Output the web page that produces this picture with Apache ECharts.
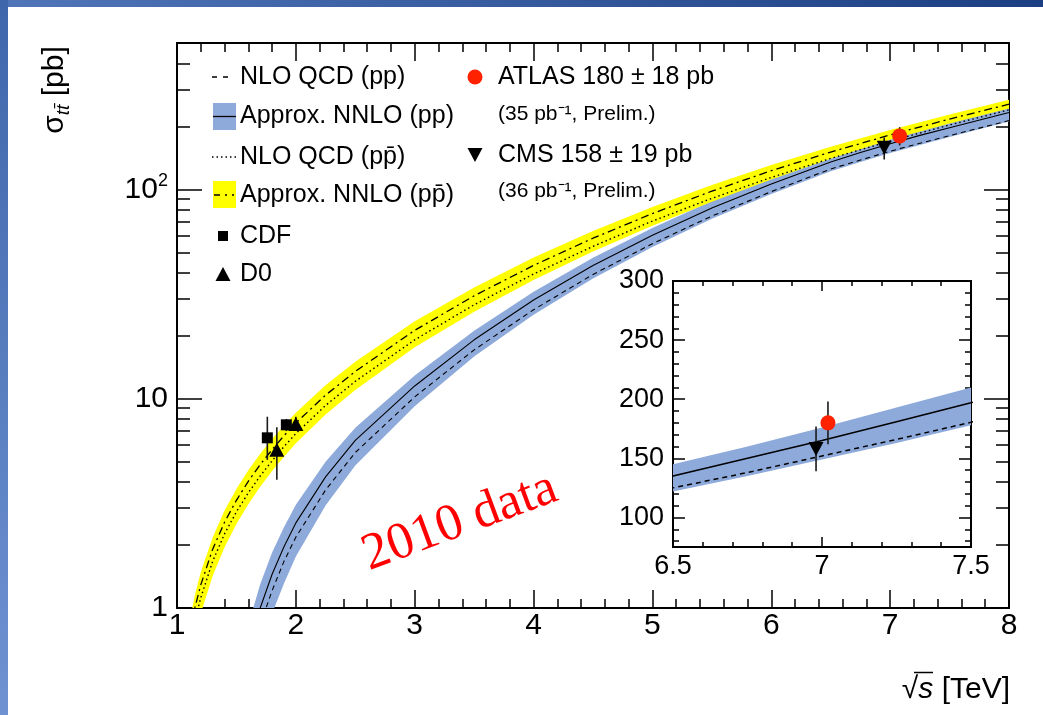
<!DOCTYPE html>
<html>
<head>
<meta charset="utf-8">
<title>Top-pair cross section vs collision energy</title>
<script src="https://cdn.jsdelivr.net/npm/echarts@6/dist/echarts.min.js"></script>
<style>
  html, body { margin: 0; padding: 0; background: #ffffff; }
  #chart { width: 1043px; height: 715px; }
</style>
</head>
<body>
<div id="chart"></div>
<script>
// ---------------- data (cross sections in pb, energies in TeV) ----------------
// pp theory curves
const ppX        = [1.6, 1.7, 1.8, 1.9, 2.0, 2.25, 2.5, 3.0, 3.5, 4.0, 4.5, 5.0, 5.5, 6.0, 6.5, 6.75, 7.0, 7.25, 7.5, 8.0];
const ppNnlo     = [0.63, 1.0, 1.45, 1.96, 2.55, 4.23, 6.32, 11.5, 19.1, 29.6, 43.3, 60.4, 81.5, 106, 135, 150, 165, 181, 197, 233];
const ppNnloHigh = [0.83, 1.30, 1.84, 2.43, 3.11, 4.99, 7.27, 12.9, 21.1, 32.4, 47.1, 65.4, 87.9, 114, 145, 160, 176, 193, 210, 248];
const ppNnloLow  = [0.39, 0.63, 0.94, 1.31, 1.76, 3.09, 4.80, 9.2, 15.9, 25.2, 37.5, 53.0, 72.3, 95.0, 122, 135, 149, 163, 178, 211];
const ppNlo      = [0.52, 0.83, 1.21, 1.67, 2.18, 3.66, 5.53, 10.2, 17.1, 26.6, 39.2, 55.0, 74.5, 97.5, 125, 138, 152, 166, 180.5, 213];

// p-pbar theory curves
const ppbarX        = [1.1, 1.15, 1.2, 1.3, 1.4, 1.5, 1.6, 1.7, 1.8, 1.9, 2.0, 2.25, 2.5, 3.0, 3.5, 4.0, 4.5, 5.0, 5.5, 6.0, 6.5, 7.0, 7.5, 8.0];
const ppbarNnlo     = [0.72, 1.0, 1.29, 1.91, 2.57, 3.27, 4.03, 4.84, 5.71, 6.65, 7.65, 10.4, 13.5, 21.2, 31.0, 43.3, 58.4, 76.6, 98.0, 122.7, 150.7, 181.8, 216.6, 255];
const ppbarNnloHigh = [0.83, 1.15, 1.48, 2.17, 2.92, 3.70, 4.55, 5.45, 6.42, 7.45, 8.57, 11.6, 15.0, 23.4, 34.0, 47.2, 63.2, 82.4, 104.9, 130.7, 159.7, 191.8, 227.9, 267.8];
const ppbarNnloLow  = [0.52, 0.72, 0.94, 1.42, 1.95, 2.52, 3.13, 3.79, 4.51, 5.28, 6.12, 8.40, 11.0, 17.6, 26.0, 36.9, 50.4, 66.9, 87.2, 111.3, 140.0, 172.7, 206.2, 243.5];
const ppbarNlo      = [0.63, 0.87, 1.12, 1.67, 2.26, 2.88, 3.55, 4.27, 5.05, 5.90, 6.81, 9.28, 12.1, 19.1, 28.1, 39.4, 53.4, 70.5, 90.6, 113.9, 140.5, 170.0, 203.0, 239.7];

// measurements: [energy shown, value, lower edge, upper edge]
const cdfPoints  = [[1.76, 6.5, 5.1, 8.2], [1.92, 7.5, 7.0, 8.0]];
const d0Points   = [[1.84, 5.7, 4.1, 7.3], [2.0, 7.56, 7.0, 8.2]];
const atlasMain  = [[7.08, 180, 162, 198]];
const cmsMain    = [[6.95, 158, 139, 177]];
const atlasInset = [[7.02, 180, 162, 198]];
const cmsInset   = [[6.98, 158, 139, 177]];

// axis ticks
const xMin = 1, xMax = 8;
const yMin = 1, yMax = 500;
const yMajorTicks = [1, 10, 100];
const yMinorTicks = [2, 3, 4, 5, 6, 7, 8, 9, 20, 30, 40, 50, 60, 70, 80, 90, 200, 300, 400, 500];
const insetXMin = 6.5, insetXMax = 7.5;
const insetYMin = 75, insetYMax = 300;
const insetYMajorTicks = [100, 150, 200, 250, 300];
const insetYMinorTicks = [80, 90, 110, 120, 130, 140, 160, 170, 180, 190, 210, 220, 230, 240, 260, 270, 280, 290];

// ---------------- helpers ----------------
const LOG = v => Math.log10(v);
const LIN = v => v;
const FONT = 'Liberation Sans, Arial, Helvetica, sans-serif';
const BLACK = '#000000';
const BLUE_BAND = '#8eaadb';
const YELLOW_BAND = '#ffff00';
const RED = '#ff2200';

function bandSeries(xs, hi, lo, color, xi, yi, tf, z) {
  return {
    type: 'custom', xAxisIndex: xi, yAxisIndex: yi, z: z, silent: true, clip: true,
    data: [[xs[xs.length - 1], tf(hi[hi.length - 1])]],
    renderItem(params, api) {
      const pts = [];
      for (let i = 0; i < xs.length; i++) pts.push(api.coord([xs[i], tf(hi[i])]));
      for (let i = xs.length - 1; i >= 0; i--) pts.push(api.coord([xs[i], tf(lo[i])]));
      const cs = params.coordSys;
      return {
        type: 'group',
        clipPath: { type: 'rect', shape: { x: cs.x, y: cs.y, width: cs.width, height: cs.height } },
        children: [{ type: 'polygon', shape: { points: pts }, style: { fill: color } }]
      };
    }
  };
}

function lineSeries(xs, ys, xi, yi, tf, width, dash, z) {
  return {
    type: 'line', xAxisIndex: xi, yAxisIndex: yi, z: z, silent: true, clip: true,
    symbol: 'none', smooth: false,
    data: xs.map((x, i) => [x, tf(ys[i])]),
    lineStyle: { color: BLACK, width: width, type: dash }
  };
}

function errorBarSeries(pts, xi, yi, tf, z) {
  return {
    type: 'custom', xAxisIndex: xi, yAxisIndex: yi, z: z, silent: true, clip: true,
    data: pts.map(p => [p[0], tf(p[2]), tf(p[3])]),
    encode: { x: 0, y: [1, 2] },
    renderItem(params, api) {
      const a = api.coord([api.value(0), api.value(1)]);
      const b = api.coord([api.value(0), api.value(2)]);
      return { type: 'line', shape: { x1: a[0], y1: a[1], x2: b[0], y2: b[1] },
               style: { stroke: '#1a1a1a', lineWidth: 1.6 } };
    }
  };
}

function markerSeries(pts, xi, yi, tf, symbol, size, color, rotate, z) {
  return {
    type: 'scatter', xAxisIndex: xi, yAxisIndex: yi, z: z, silent: true,
    symbol: symbol, symbolSize: size, symbolRotate: rotate || 0,
    data: pts.map(p => [p[0], tf(p[1])]),
    itemStyle: { color: color, opacity: 1 }
  };
}

const tickStyle = { color: BLACK, width: 1.5 };

function xAxisDef(grid, pos, min, max, interval, majorLen, minorLen, showLabels, fontSize, margin) {
  return {
    type: 'value', gridIndex: grid, position: pos, min: min, max: max, interval: interval,
    axisLine: { show: true, onZero: false, lineStyle: { color: BLACK, width: 2 } },
    axisTick: { show: true, inside: true, length: majorLen, lineStyle: tickStyle },
    minorTick: { show: true, splitNumber: 5, length: minorLen, lineStyle: tickStyle },
    axisLabel: { show: showLabels, color: BLACK, fontSize: fontSize, fontFamily: FONT, margin: margin },
    splitLine: { show: false }, minorSplitLine: { show: false }
  };
}

function yAxisDef(grid, pos, min, max, ticks, tickLen, labels, fontSize, formatter, rich) {
  const ax = {
    type: 'value', gridIndex: grid, position: pos, min: min, max: max,
    axisLine: { show: true, onZero: false, lineStyle: { color: BLACK, width: 2 } },
    axisTick: { show: true, inside: true, length: tickLen, customValues: ticks, lineStyle: tickStyle },
    axisLabel: { show: !!labels, color: BLACK, fontSize: fontSize, fontFamily: FONT, margin: 9 },
    splitLine: { show: false }
  };
  if (labels) {
    ax.axisLabel.customValues = labels;
    if (formatter) ax.axisLabel.formatter = formatter;
    if (rich) ax.axisLabel.rich = rich;
  }
  return ax;
}

const mainYFormatter = v => {
  const p = Math.round(v);
  if (p === 0) return '1';
  if (p === 1) return '10';
  return '{b|10}{sup|' + p + '}';
};
const mainYRich = {
  b: { fontSize: 30, fontFamily: FONT, color: BLACK, lineHeight: 34 },
  sup: { fontSize: 18, fontFamily: FONT, color: BLACK, verticalAlign: 'top', lineHeight: 34 }
};

// ---------------- chart ----------------
const chart = echarts.init(document.getElementById('chart'), null, { renderer: 'canvas' });

const grids = [
  { left: 177, top: 43, width: 832, height: 565, show: false },
  { left: 673, top: 281, width: 298, height: 266, show: true, backgroundColor: '#ffffff', borderWidth: 0 }
];

const xAxes = [
  xAxisDef(0, 'bottom', xMin, xMax, 1, 18, 9, true, 30, 3),
  xAxisDef(0, 'top', xMin, xMax, 1, 18, 9, false, 30, 3),
  xAxisDef(1, 'bottom', insetXMin, insetXMax, 0.5, 10, 5, true, 27, 6),
  xAxisDef(1, 'top', insetXMin, insetXMax, 0.5, 10, 5, false, 27, 6)
];

const yAxes = [
  yAxisDef(0, 'left', LOG(yMin), LOG(yMax), yMajorTicks.map(LOG), 25, yMajorTicks.map(LOG), 30, mainYFormatter, mainYRich),
  yAxisDef(0, 'left', LOG(yMin), LOG(yMax), yMinorTicks.map(LOG), 13, null, 30),
  yAxisDef(0, 'right', LOG(yMin), LOG(yMax), yMajorTicks.map(LOG), 25, null, 30),
  yAxisDef(0, 'right', LOG(yMin), LOG(yMax), yMinorTicks.map(LOG), 13, null, 30),
  yAxisDef(1, 'left', insetYMin, insetYMax, insetYMajorTicks, 12, insetYMajorTicks, 27),
  yAxisDef(1, 'left', insetYMin, insetYMax, insetYMinorTicks, 6, null, 27),
  yAxisDef(1, 'right', insetYMin, insetYMax, insetYMajorTicks, 12, null, 27),
  yAxisDef(1, 'right', insetYMin, insetYMax, insetYMinorTicks, 6, null, 27)
];

const series = [
  // main panel
  bandSeries(ppX, ppNnloHigh, ppNnloLow, BLUE_BAND, 0, 0, LOG, 1),
  bandSeries(ppbarX, ppbarNnloHigh, ppbarNnloLow, YELLOW_BAND, 0, 0, LOG, 2),
  lineSeries(ppX, ppNnlo, 0, 0, LOG, 1.1, 'solid', 3),
  lineSeries(ppX, ppNlo, 0, 0, LOG, 1.1, [5, 4], 3),
  lineSeries(ppbarX, ppbarNnlo, 0, 0, LOG, 1.3, [8, 4, 2, 4], 3),
  lineSeries(ppbarX, ppbarNlo, 0, 0, LOG, 1.4, [1.5, 3], 3),
  errorBarSeries(cdfPoints.concat(d0Points, atlasMain, cmsMain), 0, 0, LOG, 4),
  markerSeries(cdfPoints, 0, 0, LOG, 'rect', 11, BLACK, 0, 5),
  markerSeries(d0Points, 0, 0, LOG, 'triangle', [15, 14], BLACK, 0, 5),
  markerSeries(cmsMain, 0, 0, LOG, 'triangle', [15, 14], BLACK, 180, 5),
  markerSeries(atlasMain, 0, 0, LOG, 'circle', 15, RED, 0, 6),
  // inset panel
  bandSeries(ppX, ppNnloHigh, ppNnloLow, BLUE_BAND, 2, 4, LIN, 1),
  lineSeries(ppX, ppNnlo, 2, 4, LIN, 1.5, 'solid', 3),
  lineSeries(ppX, ppNlo, 2, 4, LIN, 1.5, [5, 4], 3),
  errorBarSeries(atlasInset.concat(cmsInset), 2, 4, LIN, 4),
  markerSeries(cmsInset, 2, 4, LIN, 'triangle', [15, 14], BLACK, 180, 5),
  markerSeries(atlasInset, 2, 4, LIN, 'circle', 15, RED, 0, 6)
];

// legend, titles and page decoration drawn as graphic elements
const txt = (x, y, text, size) => ({
  type: 'text', z: 10, silent: true,
  style: { text: text, x: x, y: y, fill: BLACK, font: size + 'px ' + FONT,
           textAlign: 'left', textVerticalAlign: 'middle', verticalAlign: 'middle' }
});

const graphics = [
  // slide frame
  { type: 'rect', z: 0, silent: true, shape: { x: 0, y: 0, width: 1043, height: 7 },
    style: { fill: new echarts.graphic.LinearGradient(0, 0, 1, 0, [
      { offset: 0, color: '#5075b8' }, { offset: 1, color: '#1b3f82' }]) } },
  { type: 'rect', z: 0, silent: true, shape: { x: 0, y: 0, width: 8, height: 715 },
    style: { fill: new echarts.graphic.LinearGradient(0, 0, 0, 1, [
      { offset: 0, color: '#3f66ab' }, { offset: 1, color: '#6f92d2' }]) } },

  // legend, left column
  { type: 'line', z: 10, silent: true, shape: { x1: 212, y1: 77, x2: 232, y2: 77 },
    style: { stroke: BLACK, lineWidth: 1.3, lineDash: [5, 6] } },
  txt(240, 77, 'NLO QCD (pp)', 25),
  { type: 'rect', z: 10, silent: true, shape: { x: 213, y: 103, width: 23, height: 27 }, style: { fill: BLUE_BAND } },
  { type: 'line', z: 11, silent: true, shape: { x1: 213, y1: 116.5, x2: 236, y2: 116.5 }, style: { stroke: BLACK, lineWidth: 1.3 } },
  txt(240, 116, 'Approx. NNLO (pp)', 25),
  { type: 'line', z: 10, silent: true, shape: { x1: 212, y1: 157, x2: 236, y2: 157 },
    style: { stroke: BLACK, lineWidth: 1.4, lineDash: [1.5, 3] } },
  txt(240, 157, 'NLO QCD (pp\u0304)', 25),
  { type: 'rect', z: 10, silent: true, shape: { x: 213, y: 181, width: 23, height: 27 }, style: { fill: YELLOW_BAND } },
  { type: 'line', z: 11, silent: true, shape: { x1: 214, y1: 195, x2: 234, y2: 195 },
    style: { stroke: BLACK, lineWidth: 1.3, lineDash: [6, 5, 2, 5] } },
  txt(240, 195, 'Approx. NNLO (pp\u0304)', 25),
  { type: 'rect', z: 10, silent: true, shape: { x: 218, y: 231, width: 10, height: 10 }, style: { fill: BLACK } },
  txt(240, 236, 'CDF', 25),
  { type: 'polygon', z: 10, silent: true, shape: { points: [[215.5, 281], [230.5, 281], [223, 267]] }, style: { fill: BLACK } },
  txt(240, 274, 'D0', 25),

  // legend, right column
  { type: 'circle', z: 10, silent: true, shape: { cx: 475, cy: 77, r: 7.5 }, style: { fill: RED } },
  txt(498, 77, 'ATLAS 180 \u00b1 18 pb', 25),
  txt(498, 114, '(35 pb\u207b\u00b9, Prelim.)', 21),
  { type: 'polygon', z: 10, silent: true, shape: { points: [[467.5, 148], [482.5, 148], [475, 162]] }, style: { fill: BLACK } },
  txt(498, 155, 'CMS 158 \u00b1 19 pb', 25),
  txt(498, 191, '(36 pb\u207b\u00b9, Prelim.)', 21),

  // axis titles
  { type: 'text', z: 10, silent: true, x: 55, y: 90, rotation: Math.PI / 2,
    style: { text: '{s|\u03c3}{sub|tt\u0304}{s| [pb]}', textAlign: 'center', verticalAlign: 'middle', textVerticalAlign: 'middle',
      rich: {
        s: { fontSize: 30, fontFamily: FONT, fill: BLACK, lineHeight: 36 },
        sub: { fontSize: 19, fontFamily: FONT, fontStyle: 'italic', fill: BLACK, lineHeight: 36, verticalAlign: 'bottom' }
      } } },
  { type: 'text', z: 10, silent: true, x: 1010, y: 690,
    style: { text: '{a|\u221a}{i|s}{a| [TeV]}', textAlign: 'right', verticalAlign: 'middle', textVerticalAlign: 'middle',
      rich: {
        a: { fontSize: 30, fontFamily: FONT, fill: BLACK },
        i: { fontSize: 30, fontFamily: FONT, fontStyle: 'italic', fill: BLACK }
      } } },
  // radical bar over the s
  { type: 'line', z: 10, silent: true, shape: { x1: 914, y1: 672.5, x2: 933, y2: 672.5 },
    style: { stroke: BLACK, lineWidth: 1.5 } },

  // annotation
  { type: 'text', z: 10, silent: true, x: 460, y: 522, rotation: 0.355,
    style: { text: '2010 data', fill: '#ff0000', font: '52px "Liberation Serif", "DejaVu Serif", serif',
      textAlign: 'center', verticalAlign: 'middle', textVerticalAlign: 'middle' } }
];

chart.setOption({
  animation: false,
  backgroundColor: '#ffffff',
  grid: grids,
  xAxis: xAxes,
  yAxis: yAxes,
  series: series,
  graphic: { elements: graphics }
});
</script>
</body>
</html>
